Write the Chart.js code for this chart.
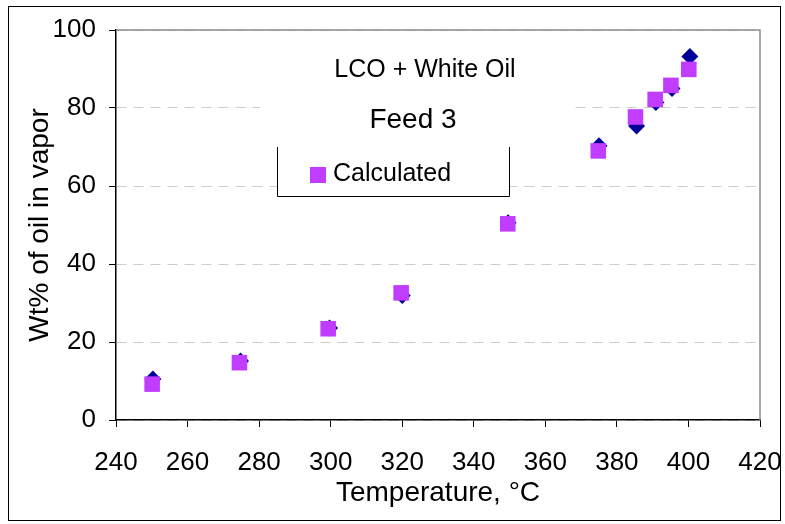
<!DOCTYPE html>
<html>
<head>
<meta charset="utf-8">
<script src="https://cdn.jsdelivr.net/npm/chart.js@4"></script>
<style>
  body { margin: 0; background: #fff; }
  canvas { display: block; }
</style>
</head>
<body>
<canvas id="vaporChart" width="785" height="524"></canvas>
<script>
// measured (diamonds) and calculated (squares) series
const expTemp = [250.3, 274.8, 299.7, 320.0, 349.6, 375.0, 385.5, 390.9, 395.4, 400.4];
const expWt = [10.5, 15.1, 23.6, 31.9, 50.6, 70.3, 75.4, 81.4, 85.0, 93.2];
const calcTemp = [250.1, 274.5, 299.3, 319.7, 349.5, 374.8, 385.2, 390.7, 395.1, 400.1];
const calcWt = [9.2, 14.7, 23.4, 32.6, 50.3, 69.0, 77.7, 82.2, 85.8, 89.9];

const xTicks = [240, 260, 280, 300, 320, 340, 360, 380, 400, 420];
const yTicks = [0, 20, 40, 60, 80, 100];

const FONT = "'Liberation Sans', Arial, sans-serif";

function toPoints(xs, ys) {
    return xs.map((x, i) => ({ x: x, y: ys[i] }));
}

// text box + legend box sitting inside the plot area
const overlayBoxes = {
    id: 'overlayBoxes',
    beforeDatasetsDraw(chart) {
        const c = chart.ctx;
        const area = chart.chartArea;
        c.save();
        // gray top/right frame of the plot area
        c.strokeStyle = '#8c8c8c';
        c.lineWidth = 1.5;
        c.beginPath();
        c.moveTo(area.left, area.top);
        c.lineTo(area.right, area.top);
        c.lineTo(area.right, area.bottom);
        c.stroke();

        // legend box
        c.fillStyle = '#fff';
        c.fillRect(277, 120, 232, 76);
        c.strokeStyle = '#000';
        c.lineWidth = 1;
        c.beginPath();
        c.moveTo(277.5, 147);
        c.lineTo(277.5, 196.5);
        c.lineTo(509.5, 196.5);
        c.lineTo(509.5, 147);
        c.stroke();

        const calc = chart.data.datasets[0];
        c.fillStyle = calc.backgroundColor;
        c.fillRect(310, 167, 16, 16);
        c.fillStyle = '#000';
        c.font = '25px ' + FONT;
        c.textBaseline = 'middle';
        c.textAlign = 'left';
        c.fillText(calc.label, 333, 174);

        // chart caption box (covers top of legend)
        c.fillStyle = '#fff';
        c.fillRect(260, 45, 312, 102);
        c.fillStyle = '#000';
        c.textAlign = 'center';
        c.font = '25px ' + FONT;
        c.fillText('LCO + White Oil', 425, 70);
        c.font = '28px ' + FONT;
        c.fillText('Feed 3', 413, 120);
        c.restore();
    },
    afterDraw(chart) {
        const c = chart.ctx;
        c.save();
        c.strokeStyle = '#000';
        c.lineWidth = 1;
        c.strokeRect(8.5, 6.5, 772, 514);
        c.restore();
    }
};

const ctx = document.getElementById('vaporChart').getContext('2d');
const vaporChart = new Chart(ctx, {
    type: 'scatter',
    data: {
        datasets: [{
            label: 'Calculated',
            data: toPoints(calcTemp, calcWt),
            pointStyle: 'rect',
            pointRadius: 11,
            pointHoverRadius: 11,
            borderWidth: 0,
            backgroundColor: '#c03cff',
            borderColor: '#c03cff'
        }, {
            label: 'Experimental',
            data: toPoints(expTemp, expWt),
            pointStyle: 'rectRot',
            pointRadius: 8.5,
            pointHoverRadius: 8.5,
            borderWidth: 0,
            backgroundColor: '#000099',
            borderColor: '#000099'
        }]
    },
    options: {
        responsive: false,
        animation: false,
        layout: {
            padding: { left: 0, top: 30, right: 25, bottom: 0 }
        },
        plugins: {
            legend: { display: false },
            tooltip: { enabled: false }
        },
        scales: {
            x: {
                type: 'linear',
                min: 240,
                max: 420,
                afterBuildTicks: s => { s.ticks = xTicks.map(v => ({ value: v })); },
                afterFit: s => {
                    s.height = 104;
                    s.paddingLeft = 0;
                    s.paddingRight = 0;
                },
                grid: {
                    drawOnChartArea: false,
                    tickLength: 7,
                    tickColor: '#000'
                },
                border: { color: '#000', width: 1.5 },
                ticks: {
                    color: '#000',
                    padding: 20,
                    maxRotation: 0,
                    font: { family: FONT, size: 26 }
                },
                title: {
                    display: true,
                    text: 'Temperature, °C',
                    color: '#000',
                    padding: { top: 0, bottom: 14 },
                    font: { family: FONT, size: 28 }
                }
            },
            y: {
                min: 0,
                max: 100,
                afterBuildTicks: s => { s.ticks = yTicks.map(v => ({ value: v })); },
                afterFit: s => { s.width = 116; },
                grid: {
                    color: '#cccccc',
                    tickBorderDash: [],
                    tickLength: 7,
                    tickColor: '#000'
                },
                border: { color: '#000', width: 1.5, dash: [10, 7] },
                ticks: {
                    color: '#000',
                    padding: 13,
                    font: { family: FONT, size: 26 }
                },
                title: {
                    display: true,
                    text: 'Wt% of oil in vapor',
                    color: '#000',
                    padding: { top: 23, bottom: 0 },
                    font: { family: FONT, size: 28 }
                }
            }
        }
    },
    plugins: [overlayBoxes]
});
</script>
</body>
</html>
